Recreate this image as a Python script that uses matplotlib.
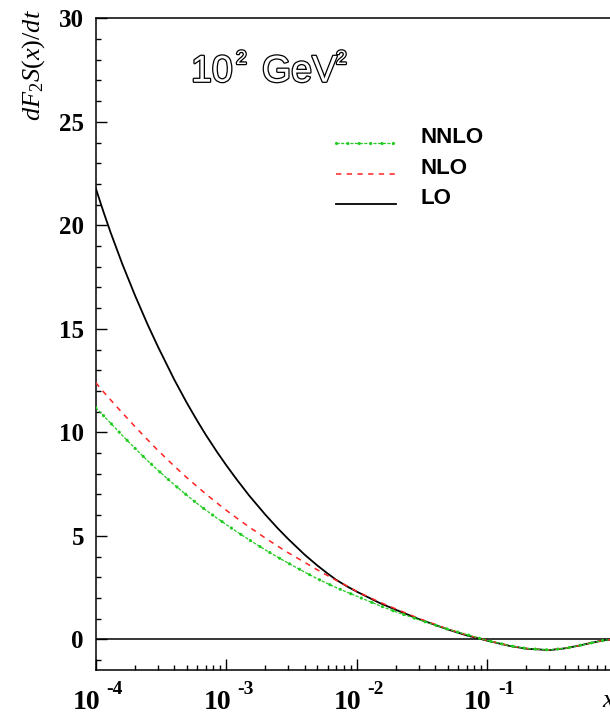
import matplotlib
matplotlib.use('Agg')
import matplotlib.pyplot as plt
import matplotlib.ticker as mticker
import matplotlib.patheffects as pe

plt.rcParams['mathtext.fontset'] = 'custom'
plt.rcParams['mathtext.it'] = 'Liberation Serif:italic'
plt.rcParams['mathtext.rm'] = 'Liberation Serif'

# data
x = [1e-4, 1.15e-4, 1.3e-4, 1.6e-4, 2e-4, 2.5e-4, 3e-4, 4e-4, 5e-4, 6e-4, 7e-4,
     8.5e-4, 1e-3, 1.2e-3, 1.5e-3, 2e-3, 2.5e-3, 3e-3, 4e-3, 5e-3, 6e-3, 7e-3,
     8.5e-3, 1e-2, 1.5e-2, 2e-2, 3e-2, 5e-2, 7e-2, 0.1, 0.15, 0.2, 0.3, 0.4,
     0.5, 0.6, 0.7, 0.8, 0.9, 1.0]
lo = [21.8, 20.63, 19.66, 18.13, 16.62, 15.21, 14.14, 12.55, 11.42, 10.56, 9.87,
      9.06, 8.42, 7.74, 6.95, 6.02, 5.35, 4.84, 4.09, 3.57, 3.18, 2.87,
      2.55, 2.31, 1.76, 1.43, 0.98, 0.48, 0.19, -0.06, -0.32, -0.45, -0.52, -0.43,
      -0.31, -0.2, -0.11, -0.04, -0.01, 0.0]
nlo = [12.4, 11.95, 11.57, 10.94, 10.28, 9.64, 9.13, 8.37, 7.81, 7.38, 7.02,
       6.59, 6.24, 5.87, 5.43, 4.89, 4.49, 4.18, 3.72, 3.36, 3.08, 2.85,
       2.57, 2.32, 1.80, 1.47, 1.01, 0.5, 0.21, -0.05, -0.31, -0.44, -0.51, -0.43,
       -0.31, -0.2, -0.11, -0.04, -0.01, 0.0]
nnlo = [11.2, 10.80, 10.45, 9.85, 9.23, 8.63, 8.17, 7.47, 6.96, 6.56, 6.24,
        5.86, 5.55, 5.21, 4.81, 4.32, 3.96, 3.68, 3.25, 2.93, 2.69, 2.50,
        2.27, 2.09, 1.63, 1.33, 0.95, 0.49, 0.23, -0.05, -0.31, -0.44, -0.51, -0.43,
        -0.31, -0.2, -0.11, -0.04, -0.01, 0.0]
labels = ['NNLO', 'NLO', 'LO']
decades = [1e-4, 1e-3, 1e-2, 1e-1]
exps = ['-4', '-3', '-2', '-1']

W, H = 610, 718
GREEN = '#22cc22'
RED = '#ff2222'


def fx(px):
    return px / W


def fy(py):
    return 1 - py / H


fig = plt.figure(figsize=(W / 100, H / 100), dpi=100)
ax_l, ax_r, ax_t, ax_b = 95.7, 617.4, 18.3, 670.0
ax = fig.add_axes([fx(ax_l), fy(ax_b), (ax_r - ax_l) / W, (ax_b - ax_t) / H])

ax.set_xscale('log')
ax.set_xlim(1e-4, 1.0)
ax.set_ylim(-1.48, 30)

ax.axhline(0, color='black', lw=1.1, zorder=1)

ax.plot(x, lo, color='black', lw=1.3, zorder=3)
ax.plot(x, nlo, color=RED, lw=1.1, linestyle=(0, (3.5, 3.5)), zorder=3)
ax.plot(x, nnlo, color=GREEN, lw=0.9, linestyle=(0, (2.5, 1.2)), zorder=3)
ax.plot(x, nnlo, color=GREEN, lw=2.3, linestyle=(0, (0.01, 3.55)),
        dash_capstyle='round', zorder=3)

# ticks
ax.yaxis.set_major_locator(mticker.MultipleLocator(5))
ax.yaxis.set_minor_locator(mticker.MultipleLocator(1))
ax.xaxis.set_major_locator(mticker.LogLocator(base=10, numticks=10))
ax.xaxis.set_minor_locator(mticker.LogLocator(base=10, subs=range(2, 10), numticks=20))
ax.xaxis.set_minor_formatter(mticker.NullFormatter())
ax.xaxis.set_major_formatter(mticker.NullFormatter())
ax.tick_params(which='both', direction='in', top=False, right=False, width=1)
ax.tick_params(which='major', length=8)
ax.tick_params(which='minor', length=3.8)
ax.tick_params(axis='y', pad=8.5)
for lab in ax.get_yticklabels():
    lab.set_fontfamily('Liberation Serif')
    lab.set_fontweight('bold')
    lab.set_fontsize(18)
for s in ax.spines.values():
    s.set_linewidth(1.1)

# x tick labels as 10^n
for d, e in zip(decades, exps):
    ax.annotate('10', xy=(d, 0), xycoords=('data', 'axes fraction'),
                xytext=(-9, -32.5), textcoords='offset pixels',
                ha='center', va='center', fontsize=20, fontweight='bold',
                family='Liberation Serif')
    ax.annotate(e, xy=(d, 0), xycoords=('data', 'axes fraction'),
                xytext=(11, -19), textcoords='offset pixels',
                ha='left', va='center', fontsize=14, fontweight='bold',
                family='Liberation Serif')

# axis title, partly off the right edge as in the reference
fig.text(fx(602), fy(701), 'x', fontsize=19, style='italic',
         family='Liberation Serif', ha='left', va='center')

fig.text(fx(34), fy(121), r'$dF_2S(x)/dt$', rotation=90, fontsize=19,
         ha='center', va='bottom')

# Q^2 label in hollow letters
hollow = [pe.Stroke(linewidth=1.8, foreground='black'), pe.Normal()]
for txt, px, py, fs in [('10', 191, 81.7, 27), ('2', 236, 64, 14),
                        ('GeV', 262, 81.7, 27), ('2', 336, 64, 14)]:
    fig.text(fx(px), fy(py), txt, fontsize=fs, color='white',
             family='Liberation Sans', ha='left', va='baseline',
             path_effects=hollow)

# legend
leg_y = [142.7, 174.0, 204.0]
for lab, py in zip(labels, leg_y):
    xs = [fx(336), fx(396)]
    ys = [fy(py), fy(py)]
    if lab == 'NNLO':
        fig.add_artist(plt.Line2D(xs, ys, color=GREEN, lw=0.9,
                                  linestyle=(0, (2.5, 1.2))))
        fig.add_artist(plt.Line2D(xs, ys, color=GREEN, lw=2.3,
                                  linestyle=(0, (0.01, 3.55)),
                                  dash_capstyle='round'))
    elif lab == 'NLO':
        fig.add_artist(plt.Line2D(xs, ys, color=RED, lw=1.1,
                                  linestyle=(0, (3.5, 3.5))))
    else:
        fig.add_artist(plt.Line2D(xs, ys, color='black', lw=1.3))
    fig.text(fx(420), fy(py + 0.5), lab, fontsize=16, fontweight='bold',
             family='Liberation Sans', ha='left', va='baseline')

fig.savefig('out.png', dpi=100)
